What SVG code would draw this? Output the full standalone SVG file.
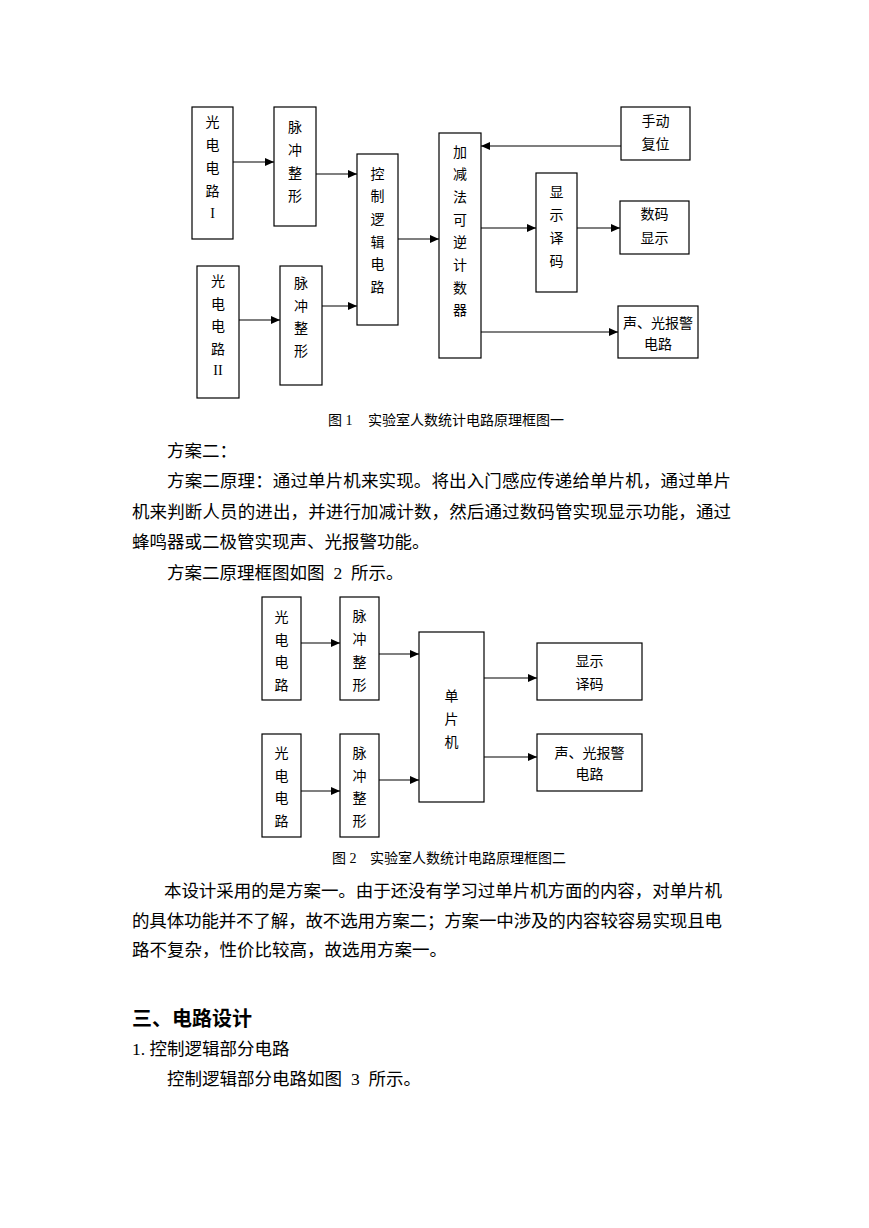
<svg xmlns="http://www.w3.org/2000/svg" width="869" height="1228" viewBox="0 0 869 1228">
<defs>
<marker id="arr" markerWidth="10" markerHeight="8" refX="9" refY="4" orient="auto" markerUnits="userSpaceOnUse"><path d="M0,0 L9,4 L0,8 z" fill="#000"/></marker>
<style>
.box{fill:#fff;stroke:#000;stroke-width:1.2}
.bt{font-family:"Liberation Serif","Noto Sans CJK SC",serif;font-size:14px;fill:#000;text-anchor:middle}
.cap{font-family:"Liberation Serif","Noto Sans CJK SC",serif;font-size:14px;fill:#000}
.p{font-family:"Liberation Serif","Noto Sans CJK SC",serif;font-size:17.5px;fill:#000}
.h{font-family:"Noto Sans CJK SC",sans-serif;font-size:20px;font-weight:bold;fill:#000}
.ln{stroke:#000;stroke-width:1.2;fill:none;marker-end:url(#arr)}
</style>
</defs>
<rect width="869" height="1228" fill="#fff"/>

<!-- Figure 1 -->
<g id="f1-photo1"><rect class="box" x="192" y="107" width="41" height="132"/>
<text class="bt" x="212.5" y="127">光</text><text class="bt" x="212.5" y="150">电</text><text class="bt" x="212.5" y="172.5">电</text><text class="bt" x="212.5" y="195.5">路</text><text class="bt" x="212.5" y="218">I</text></g>
<g id="f1-pulse1"><rect class="box" x="274" y="107" width="42" height="119"/>
<text class="bt" x="295" y="132">脉</text><text class="bt" x="295" y="155">冲</text><text class="bt" x="295" y="178">整</text><text class="bt" x="295" y="201">形</text></g>
<g id="f1-photo2"><rect class="box" x="197" y="266" width="42" height="132"/>
<text class="bt" x="218" y="285.5">光</text><text class="bt" x="218" y="308.5">电</text><text class="bt" x="218" y="331">电</text><text class="bt" x="218" y="353.5">路</text><text class="bt" x="218" y="375">II</text></g>
<g id="f1-pulse2"><rect class="box" x="280" y="266" width="42" height="119"/>
<text class="bt" x="301" y="288">脉</text><text class="bt" x="301" y="310.5">冲</text><text class="bt" x="301" y="333">整</text><text class="bt" x="301" y="356">形</text></g>
<g id="f1-control"><rect class="box" x="357" y="154" width="41" height="171"/>
<text class="bt" x="377.5" y="178.5">控</text><text class="bt" x="377.5" y="201">制</text><text class="bt" x="377.5" y="224">逻</text><text class="bt" x="377.5" y="246.5">辑</text><text class="bt" x="377.5" y="269">电</text><text class="bt" x="377.5" y="292">路</text></g>
<g id="f1-counter"><rect class="box" x="439" y="133" width="42" height="225"/>
<text class="bt" x="460" y="156.5">加</text><text class="bt" x="460" y="179">减</text><text class="bt" x="460" y="202">法</text><text class="bt" x="460" y="224.5">可</text><text class="bt" x="460" y="247">逆</text><text class="bt" x="460" y="270">计</text><text class="bt" x="460" y="292.5">数</text><text class="bt" x="460" y="315">器</text></g>
<g id="f1-reset"><rect class="box" x="621" y="107" width="69" height="53"/>
<text class="bt" x="655.5" y="125.5">手动</text><text class="bt" x="655.5" y="148.5">复位</text></g>
<g id="f1-decode"><rect class="box" x="536" y="173" width="41" height="119"/>
<text class="bt" x="556.5" y="196.5">显</text><text class="bt" x="556.5" y="219.5">示</text><text class="bt" x="556.5" y="242.5">译</text><text class="bt" x="556.5" y="265.5">码</text></g>
<g id="f1-digit"><rect class="box" x="620" y="201" width="69" height="53"/>
<text class="bt" x="654.5" y="218.5">数码</text><text class="bt" x="654.5" y="242.5">显示</text></g>
<g id="f1-alarm"><rect class="box" x="618" y="306" width="80" height="52"/>
<text class="bt" x="658" y="327.5">声、光报警</text><text class="bt" x="658" y="348.5">电路</text></g>

<!-- Figure 2 -->
<g id="f2-photo1"><rect class="box" x="262" y="597" width="39" height="103"/>
<text class="bt" x="281.5" y="621.5">光</text><text class="bt" x="281.5" y="644.5">电</text><text class="bt" x="281.5" y="667">电</text><text class="bt" x="281.5" y="689.5">路</text></g>
<g id="f2-pulse1"><rect class="box" x="340" y="597" width="39" height="103"/>
<text class="bt" x="359.5" y="621">脉</text><text class="bt" x="359.5" y="644">冲</text><text class="bt" x="359.5" y="667">整</text><text class="bt" x="359.5" y="689.5">形</text></g>
<g id="f2-photo2"><rect class="box" x="262" y="734" width="39" height="103"/>
<text class="bt" x="281.5" y="757.5">光</text><text class="bt" x="281.5" y="780.5">电</text><text class="bt" x="281.5" y="803">电</text><text class="bt" x="281.5" y="825.5">路</text></g>
<g id="f2-pulse2"><rect class="box" x="340" y="734" width="39" height="103"/>
<text class="bt" x="359.5" y="757.5">脉</text><text class="bt" x="359.5" y="780.5">冲</text><text class="bt" x="359.5" y="803">整</text><text class="bt" x="359.5" y="825.5">形</text></g>
<g id="f2-mcu"><rect class="box" x="419" y="632" width="65" height="170"/>
<text class="bt" x="451.5" y="700.5">单</text><text class="bt" x="451.5" y="723.5">片</text><text class="bt" x="451.5" y="746.5">机</text></g>
<g id="f2-decode"><rect class="box" x="537" y="643" width="105" height="57"/>
<text class="bt" x="589.5" y="665.5">显示</text><text class="bt" x="589.5" y="688.5">译码</text></g>
<g id="f2-alarm"><rect class="box" x="537" y="734" width="105" height="57"/>
<text class="bt" x="589.5" y="757.5">声、光报警</text><text class="bt" x="589.5" y="778.5">电路</text></g>

<g id="connectors">
<line class="ln" x1="233" y1="162" x2="274" y2="162"/>
<line class="ln" x1="316" y1="174" x2="357" y2="174"/>
<line class="ln" x1="239" y1="320" x2="280" y2="320"/>
<line class="ln" x1="322" y1="306" x2="357" y2="306"/>
<line class="ln" x1="398" y1="239" x2="439" y2="239"/>
<line class="ln" x1="621" y1="146" x2="481" y2="146"/>
<line class="ln" x1="481" y1="228" x2="536" y2="228"/>
<line class="ln" x1="577" y1="228" x2="620" y2="228"/>
<line class="ln" x1="481" y1="332" x2="618" y2="332"/>
<line class="ln" x1="301" y1="643" x2="340" y2="643"/>
<line class="ln" x1="379" y1="654" x2="419" y2="654"/>
<line class="ln" x1="301" y1="791" x2="340" y2="791"/>
<line class="ln" x1="379" y1="780" x2="419" y2="780"/>
<line class="ln" x1="484" y1="678" x2="537" y2="678"/>
<line class="ln" x1="484" y1="757" x2="537" y2="757"/>
</g>

<!-- Captions and body text -->
<text class="cap" x="328" y="425.3">图 1</text>
<text class="cap" x="368" y="425.3">实验室人数统计电路原理框图一</text>
<text class="p" x="167" y="456.6">方案二：</text>
<text class="p" x="167" y="487" textLength="564" lengthAdjust="spacing">方案二原理：通过单片机来实现。将出入门感应传递给单片机，通过单片</text>
<text class="p" x="132" y="517.5" textLength="599" lengthAdjust="spacing">机来判断人员的进出，并进行加减计数，然后通过数码管实现显示功能，通过</text>
<text class="p" x="132" y="548">蜂鸣器或二极管实现声、光报警功能。</text>
<text class="p" x="167" y="578.5">方案二原理框图如图<tspan x="333.5">2</tspan><tspan x="351">所示。</tspan></text>
<text class="cap" x="332" y="863.3">图 2</text>
<text class="cap" x="370" y="863.3">实验室人数统计电路原理框图二</text>
<text class="p" x="164" y="896.5" textLength="558" lengthAdjust="spacing">本设计采用的是方案一。由于还没有学习过单片机方面的内容，对单片机</text>
<text class="p" x="132" y="926.5" textLength="590" lengthAdjust="spacing">的具体功能并不了解，故不选用方案二；方案一中涉及的内容较容易实现且电</text>
<text class="p" x="132" y="956">路不复杂，性价比较高，故选用方案一。</text>
<text class="h" x="132" y="1025.5">三、电路设计</text>
<text class="p" x="132" y="1055">1.<tspan x="149.5">控制逻辑部分电路</tspan></text>
<text class="p" x="167" y="1084.5">控制逻辑部分电路如图<tspan x="351">3</tspan><tspan x="368.5">所示。</tspan></text>
</svg>
